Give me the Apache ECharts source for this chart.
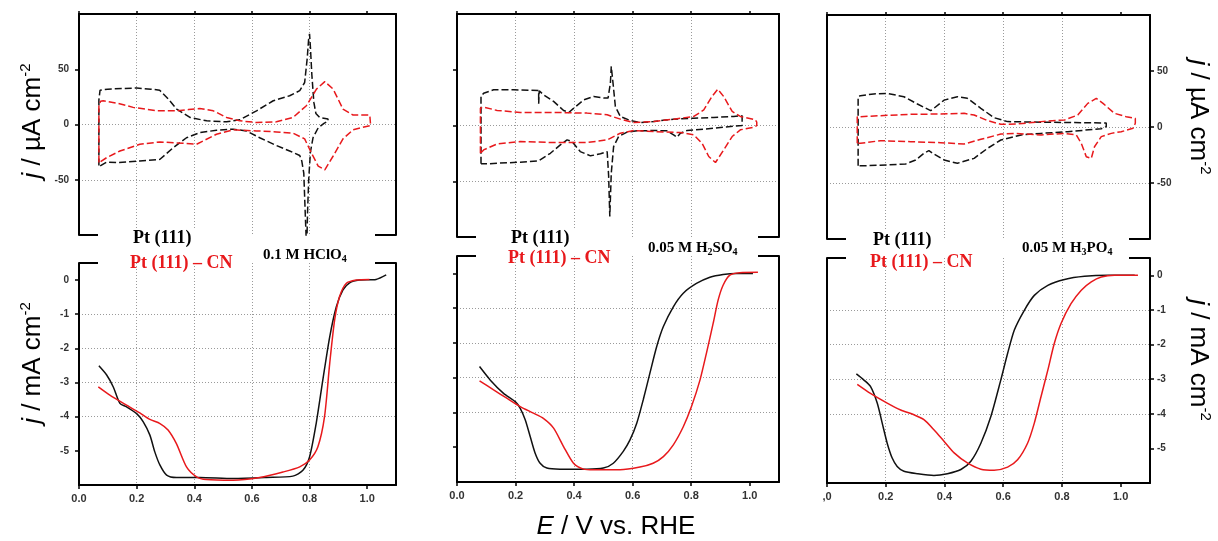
<!DOCTYPE html>
<html><head><meta charset="utf-8">
<script src="https://cdn.jsdelivr.net/npm/echarts@6/dist/echarts.min.js"></script>
<style>html,body{margin:0;padding:0;background:#fff}#c{width:1218px;height:541px}</style>
</head><body><div id="c"></div>
<script>
// ---------------- DATA ----------------
const xTickValues = [0, 0.2, 0.4, 0.6, 0.8, 1.0];
const xTickLabels = ['0.0', '0.2', '0.4', '0.6', '0.8', '1.0'];
const xTickLabelsRight = [',0', '0.2', '0.4', '0.6', '0.8', '1.0'];
const cvTickValues = [-50, 0, 50];
const orrTickValues = [-5, -4, -3, -2, -1, 0];
const legendNames = ['Pt (111)', 'Pt (111) – CN'];
const electrolyteLabels = ['0.1 M HClO{s|4}', '0.05 M H{s|2}SO{s|4}', '0.05 M H{s|3}PO{s|4}'];

// CV, 0.1 M HClO4 (µA cm-2)
const cvHClO4_Pt = [[0.069,-37],[0.069,22],[0.073,31],[0.10,32],[0.15,32.5],[0.20,33],[0.25,32],[0.28,31],[0.31,23],[0.339,14],[0.385,6.4],[0.443,3.3],[0.512,2.4],[0.558,4.2],[0.616,12.4],[0.674,21.5],[0.731,26],[0.766,30.6],[0.783,38],[0.792,60],[0.797,78],[0.80,82],[0.803,70],[0.808,45],[0.815,20],[0.822,10],[0.835,6.4],[0.864,5],[0.864,3],[0.85,1],[0.83,-3],[0.812,-12],[0.803,-25],[0.797,-50],[0.793,-80],[0.790,-115],[0.785,-80],[0.780,-44],[0.773,-33],[0.766,-28],[0.731,-24],[0.685,-19],[0.627,-12],[0.581,-5.8],[0.535,-4.2],[0.477,-5.2],[0.42,-7.3],[0.373,-12],[0.327,-21],[0.281,-31.5],[0.211,-33],[0.13,-34.5],[0.096,-34],[0.073,-37.6],[0.069,-37]];
const cvHClO4_CN = [[0.069,-34.5],[0.069,18],[0.075,21],[0.084,21.5],[0.13,19.4],[0.188,15.5],[0.269,12.4],[0.339,12.4],[0.38,13.5],[0.419,14.5],[0.466,12.4],[0.512,6.4],[0.558,3.3],[0.616,1.8],[0.685,2.4],[0.743,6.4],[0.789,17],[0.824,32],[0.853,38.8],[0.882,32],[0.916,14],[0.951,8.5],[1.009,8.5],[1.012,8],[1.012,-1],[0.997,-1.8],[0.951,-4.8],[0.916,-13],[0.882,-28.5],[0.853,-41],[0.83,-37.6],[0.806,-25.5],[0.783,-13],[0.743,-7.9],[0.685,-6.7],[0.616,-5.8],[0.535,-4.8],[0.477,-8.8],[0.43,-15],[0.408,-17.9],[0.362,-17],[0.281,-15.8],[0.211,-17.9],[0.142,-24],[0.096,-30],[0.069,-34.5]];
// CV, 0.05 M H2SO4
const cvH2SO4_Pt = [[0.082,-34.4],[0.082,26],[0.091,29],[0.125,32],[0.194,32],[0.279,31.4],[0.279,19.5],[0.281,31],[0.296,27.5],[0.33,21.6],[0.364,13.5],[0.382,11.7],[0.399,15.6],[0.433,23],[0.467,26],[0.501,24.6],[0.516,24.6],[0.524,38],[0.527,53],[0.533,38],[0.541,17],[0.558,8.1],[0.592,4.5],[0.626,2.7],[0.672,3.6],[0.74,5.7],[0.809,6.6],[0.877,7.2],[0.945,8.1],[0.974,8.7],[0.974,0],[0.968,-0.6],[0.9,-1.8],[0.843,-3.3],[0.786,-4.5],[0.763,-6.9],[0.752,-10.5],[0.74,-8.4],[0.718,-4.8],[0.672,-4.5],[0.615,-4.8],[0.581,-6],[0.552,-9.9],[0.535,-18.9],[0.527,-42.8],[0.522,-81.7],[0.518,-45],[0.513,-23.4],[0.49,-25.4],[0.456,-27.2],[0.421,-23.4],[0.393,-14.4],[0.376,-12.9],[0.353,-17.4],[0.319,-24.9],[0.279,-31.7],[0.216,-32.9],[0.137,-33.8],[0.103,-34.4],[0.082,-34.4]];
const cvH2SO4_CN = [[0.08,-24.9],[0.08,15.6],[0.091,16.5],[0.137,13.5],[0.216,11.7],[0.33,11.7],[0.444,11.1],[0.513,9.6],[0.558,5.7],[0.604,2.7],[0.672,3.6],[0.74,5.7],[0.809,8.1],[0.843,14],[0.871,26],[0.891,32.6],[0.911,26],[0.94,12.6],[0.968,8.1],[1.019,5.1],[1.024,3],[1.024,0],[1.014,-1.5],[0.968,-3.9],[0.94,-9.9],[0.911,-21.9],[0.883,-33.2],[0.86,-27.8],[0.837,-15.9],[0.809,-8.4],[0.763,-6.3],[0.672,-5.4],[0.604,-4.5],[0.558,-6.9],[0.513,-12.9],[0.444,-15.3],[0.33,-15.3],[0.216,-14.4],[0.137,-16.5],[0.091,-21.9],[0.08,-24.9]];
// CV, 0.05 M H3PO4
const cvH3PO4_Pt = [[0.106,-34.5],[0.106,27],[0.114,28],[0.159,29.5],[0.205,30],[0.262,27],[0.308,20.5],[0.353,14.6],[0.364,16.7],[0.399,24],[0.444,27],[0.478,25.6],[0.524,16.7],[0.569,8.3],[0.615,4.8],[0.683,4.5],[0.763,4.2],[0.843,4],[0.951,3.5],[0.951,0.3],[0.934,-1.5],[0.82,-4.2],[0.729,-5.7],[0.661,-7.1],[0.592,-11.6],[0.547,-19],[0.501,-28],[0.444,-32.4],[0.399,-29.5],[0.364,-24.1],[0.347,-21.1],[0.33,-23.5],[0.302,-29.5],[0.268,-33],[0.205,-33.9],[0.137,-34.5],[0.106,-34.5]];
const cvH3PO4_CN = [[0.103,-14.6],[0.103,9.2],[0.114,9.2],[0.182,10.1],[0.285,11.3],[0.387,11.6],[0.467,12.2],[0.501,10.7],[0.547,5.7],[0.592,2.4],[0.649,2.7],[0.729,4.8],[0.809,6.3],[0.854,10.7],[0.888,21.1],[0.917,25.6],[0.94,21.1],[0.979,12.2],[1.019,9.2],[1.05,7.7],[1.05,3.3],[1.042,-1.2],[1.002,-4.2],[0.968,-5.7],[0.934,-8.6],[0.911,-17.6],[0.9,-28],[0.883,-26.5],[0.866,-14.6],[0.849,-7.1],[0.809,-5.7],[0.729,-7.1],[0.638,-5.7],[0.592,-6.3],[0.524,-11],[0.467,-15.2],[0.387,-14],[0.285,-13.1],[0.182,-12.2],[0.114,-14.6],[0.103,-14.6]];

// ORR polarization curves (mA cm-2)
const orrHClO4_Pt = [[0.069,-2.51],[0.096,-2.78],[0.119,-3.13],[0.142,-3.61],[0.165,-3.71],[0.2,-3.91],[0.223,-4.15],[0.246,-4.54],[0.263,-5.03],[0.281,-5.42],[0.304,-5.71],[0.338,-5.78],[0.419,-5.78],[0.535,-5.81],[0.65,-5.78],[0.742,-5.74],[0.777,-5.57],[0.8,-5.18],[0.823,-4.2],[0.846,-2.93],[0.87,-1.66],[0.893,-0.78],[0.916,-0.29],[0.939,-0.08],[0.973,0],[1.031,0.02],[1.066,0.15]];
const orrHClO4_CN = [[0.067,-3.13],[0.107,-3.37],[0.165,-3.66],[0.211,-3.89],[0.246,-4.08],[0.281,-4.2],[0.309,-4.39],[0.338,-4.79],[0.373,-5.47],[0.408,-5.76],[0.442,-5.84],[0.535,-5.86],[0.627,-5.78],[0.708,-5.62],[0.766,-5.47],[0.8,-5.27],[0.829,-4.88],[0.852,-4.0],[0.87,-2.44],[0.887,-1.17],[0.904,-0.49],[0.927,-0.1],[0.962,0],[1.008,0.02]];
const orrH2SO4_Pt = [[0.077,-2.68],[0.114,-3.07],[0.159,-3.45],[0.199,-3.69],[0.216,-3.88],[0.233,-4.21],[0.25,-4.69],[0.267,-5.17],[0.284,-5.46],[0.307,-5.6],[0.352,-5.63],[0.443,-5.63],[0.5,-5.6],[0.534,-5.46],[0.568,-5.12],[0.591,-4.79],[0.614,-4.31],[0.636,-3.64],[0.659,-2.87],[0.682,-2.11],[0.705,-1.53],[0.739,-0.96],[0.773,-0.57],[0.818,-0.29],[0.864,-0.11],[0.909,-0.03],[0.955,0],[1.011,0]];
const orrH2SO4_CN = [[0.077,-3.09],[0.125,-3.35],[0.17,-3.59],[0.216,-3.83],[0.261,-4.02],[0.295,-4.17],[0.33,-4.45],[0.364,-4.98],[0.398,-5.46],[0.432,-5.63],[0.466,-5.65],[0.557,-5.65],[0.625,-5.57],[0.67,-5.46],[0.705,-5.27],[0.739,-4.93],[0.773,-4.41],[0.801,-3.83],[0.83,-3.07],[0.852,-2.3],[0.875,-1.44],[0.892,-0.77],[0.909,-0.34],[0.932,-0.05],[0.966,0.02],[1.028,0.03]];
const orrH3PO4_Pt = [[0.1,-2.85],[0.125,-3.02],[0.148,-3.21],[0.171,-3.69],[0.188,-4.27],[0.205,-4.85],[0.222,-5.28],[0.239,-5.52],[0.262,-5.66],[0.308,-5.73],[0.364,-5.78],[0.41,-5.73],[0.456,-5.61],[0.49,-5.37],[0.524,-4.85],[0.558,-4.08],[0.592,-3.02],[0.615,-2.26],[0.638,-1.58],[0.672,-1.01],[0.706,-0.58],[0.752,-0.29],[0.809,-0.12],[0.877,-0.03],[0.957,0],[1.048,0]];
const orrH3PO4_CN = [[0.103,-3.15],[0.148,-3.41],[0.205,-3.69],[0.251,-3.89],[0.296,-4.03],[0.33,-4.17],[0.364,-4.46],[0.399,-4.8],[0.433,-5.13],[0.478,-5.42],[0.524,-5.6],[0.569,-5.63],[0.615,-5.54],[0.649,-5.33],[0.683,-4.85],[0.706,-4.27],[0.729,-3.5],[0.752,-2.74],[0.774,-1.97],[0.797,-1.39],[0.831,-0.82],[0.866,-0.43],[0.9,-0.19],[0.934,-0.05],[0.979,0],[1.059,0]];

const cvSeries = [[cvHClO4_Pt, cvHClO4_CN], [cvH2SO4_Pt, cvH2SO4_CN], [cvH3PO4_Pt, cvH3PO4_CN]];
const orrSeries = [[orrHClO4_Pt, orrHClO4_CN], [orrH2SO4_Pt, orrH2SO4_CN], [orrH3PO4_Pt, orrH3PO4_CN]];

// ---------------- LAYOUT / STYLE ----------------
const SANS = "'Liberation Sans', Arial, sans-serif";
const SERIF = "'Liberation Serif', 'Times New Roman', serif";
const BLACK = '#111111', RED = '#e8191c';
const layout = [
  {left: 79, width: 317, tTop: 14, tH: 221, bTop: 263, bH: 222},
  {left: 457, width: 322, tTop: 14, tH: 223, bTop: 256, bH: 226},
  {left: 827, width: 323, tTop: 15, tH: 224, bTop: 258, bH: 225}
];
const textPos = [
  {x: 130, y1: 238, y2: 263, ex: 263, ey: 255},
  {x: 508, y1: 238, y2: 258, ex: 648, ey: 248},
  {x: 870, y1: 240, y2: 262, ex: 1022, ey: 248}
];
const gridLine = {show: true, lineStyle: {color: '#9a9a9a', width: 1, type: [1, 2]}};
const frame = {color: '#000', width: 2};
const labelStyle = {fontSize: 11, fontWeight: 'bold', color: '#333', fontFamily: SANS};

function near(a, b) { return Math.abs(a - b) < 1e-6; }

const grids = [], xAxes = [], yAxes = [], series = [];
for (let r = 0; r < 2; r++) {
  for (let c = 0; c < 3; c++) {
    const L = layout[c];
    const gi = grids.length;
    grids.push({left: L.left, top: r === 0 ? L.tTop : L.bTop, width: L.width, height: r === 0 ? L.tH : L.bH, containLabel: false});
    const xLabels = c === 2 ? xTickLabelsRight : xTickLabels;
    xAxes.push({
      gridIndex: gi, type: 'value', min: 0, max: 1.1, interval: 0.2, position: 'bottom',
      axisLine: {show: r === 1, onZero: false, lineStyle: frame},
      axisTick: {show: r === 1, length: 4, lineStyle: {color: '#000', width: 1.5}, customValues: xTickValues},
      axisLabel: {show: r === 1, margin: 8, ...labelStyle, customValues: xTickValues,
        formatter: v => { const k = xTickValues.findIndex(t => near(t, v)); return k < 0 ? '' : xLabels[k]; }},
      splitLine: {...gridLine, showMinLine: false, showMaxLine: false}
    });
    xAxes.push({
      gridIndex: gi, type: 'value', min: 0, max: 1.1, interval: 0.2, position: 'top',
      axisLine: {show: r === 0, onZero: false, lineStyle: frame},
      axisTick: {show: r === 0, length: 3, lineStyle: {color: '#000', width: 1.5}, customValues: xTickValues},
      axisLabel: {show: false}, splitLine: {show: false}
    });
    const ymin = r === 0 ? -100 : -6, ymax = r === 0 ? 100 : 0.5, yint = r === 0 ? 50 : 1;
    const yVals = r === 0 ? cvTickValues : orrTickValues;
    yAxes.push({
      gridIndex: gi, type: 'value', min: ymin, max: ymax, interval: yint,
      position: c === 2 ? 'right' : 'left',
      axisLine: {show: true, onZero: false, lineStyle: frame},
      axisTick: {show: true, length: 4, lineStyle: {color: '#000', width: 1.5}, customValues: yVals},
      axisLabel: {show: c !== 1, margin: c === 2 ? 7 : 10, ...labelStyle, fontSize: 10, customValues: yVals,
        formatter: v => String(v)},
      splitLine: {...gridLine, showMinLine: r === 0, showMaxLine: false}
    });
    yAxes.push({
      gridIndex: gi, type: 'value', min: ymin, max: ymax, interval: yint,
      position: c === 2 ? 'left' : 'right',
      axisLine: {show: true, onZero: false, lineStyle: frame},
      axisTick: {show: false}, axisLabel: {show: false}, splitLine: {show: false}
    });
    const sets = r === 0 ? cvSeries[c] : orrSeries[c];
    sets.forEach((d, k) => {
      series.push({
        type: 'line', name: legendNames[k], xAxisIndex: gi * 2, yAxisIndex: gi * 2, data: d,
        showSymbol: false, symbol: 'none', smooth: r === 1 ? 0.25 : false, clip: true, silent: true, z: 3,
        lineStyle: {color: k === 0 ? BLACK : RED, width: 1.5, type: r === 0 ? [7, 3] : 'solid'}
      });
    });
  }
}

const graphics = [];
layout.forEach((L, c) => {
  const right = L.left + L.width;
  const yTb = L.tTop + L.tH, yBt = L.bTop;
  [yTb, yBt].forEach(y => {
    graphics.push({type: 'line', z: 20, shape: {x1: L.left, y1: y, x2: L.left + 19, y2: y}, style: {stroke: '#000', lineWidth: 2}});
    graphics.push({type: 'line', z: 20, shape: {x1: right - 21, y1: y, x2: right, y2: y}, style: {stroke: '#000', lineWidth: 2}});
  });
  const T = textPos[c];
  graphics.push({type: 'text', z: 30, x: T.x, y: T.y1, style: {text: legendNames[0], fill: '#000',
    fontFamily: SERIF, fontWeight: 'bold', fontSize: 18, align: 'left', verticalAlign: 'middle',
    textAlign: 'left', textVerticalAlign: 'middle', backgroundColor: '#fff', padding: [0, 10, 0, 3]}});
  graphics.push({type: 'text', z: 30, x: T.x, y: T.y2, style: {text: legendNames[1], fill: RED,
    fontFamily: SERIF, fontWeight: 'bold', fontSize: 18, align: 'left', verticalAlign: 'middle',
    textAlign: 'left', textVerticalAlign: 'middle'}});
  graphics.push({type: 'text', z: 30, x: T.ex, y: T.ey, style: {text: electrolyteLabels[c], fill: '#000',
    fontFamily: SERIF, fontWeight: 'bold', fontSize: 15, align: 'left', verticalAlign: 'middle',
    textAlign: 'left', textVerticalAlign: 'middle', lineHeight: 18,
    rich: {s: {fontFamily: SERIF, fontWeight: 'bold', fontSize: 10, verticalAlign: 'bottom', lineHeight: 7, fill: '#000'}}}});
});

function title(text, x, y, rot) {
  return {type: 'text', z: 30, x: x, y: y, rotation: rot, style: {text: text, fill: '#000',
    fontFamily: SANS, fontSize: 26, align: 'center', verticalAlign: 'middle', textAlign: 'center', textVerticalAlign: 'middle',
    lineHeight: 30,
    rich: {
      i: {fontFamily: SANS, fontSize: 26, fontStyle: 'italic', lineHeight: 30, fill: '#000'},
      sup: {fontFamily: SANS, fontSize: 15, verticalAlign: 'top', lineHeight: 12, fill: '#000'}
    }}};
}
graphics.push(title('{i|j} / µA cm{sup|-2}', 33, 121, Math.PI / 2));
graphics.push(title('{i|j} / mA cm{sup|-2}', 33, 363, Math.PI / 2));
graphics.push(title('{i|j} / µA cm{sup|-2}', 1198, 117, -Math.PI / 2));
graphics.push(title('{i|j} / mA cm{sup|-2}', 1198, 360, -Math.PI / 2));
graphics.push(title('{i|E} / V vs. RHE', 616, 527, 0));

const chart = echarts.init(document.getElementById('c'), null, {renderer: 'canvas'});
chart.setOption({
  animation: false,
  backgroundColor: '#fff',
  grid: grids, xAxis: xAxes, yAxis: yAxes, series: series,
  graphic: {elements: graphics}
});
</script></body></html>
